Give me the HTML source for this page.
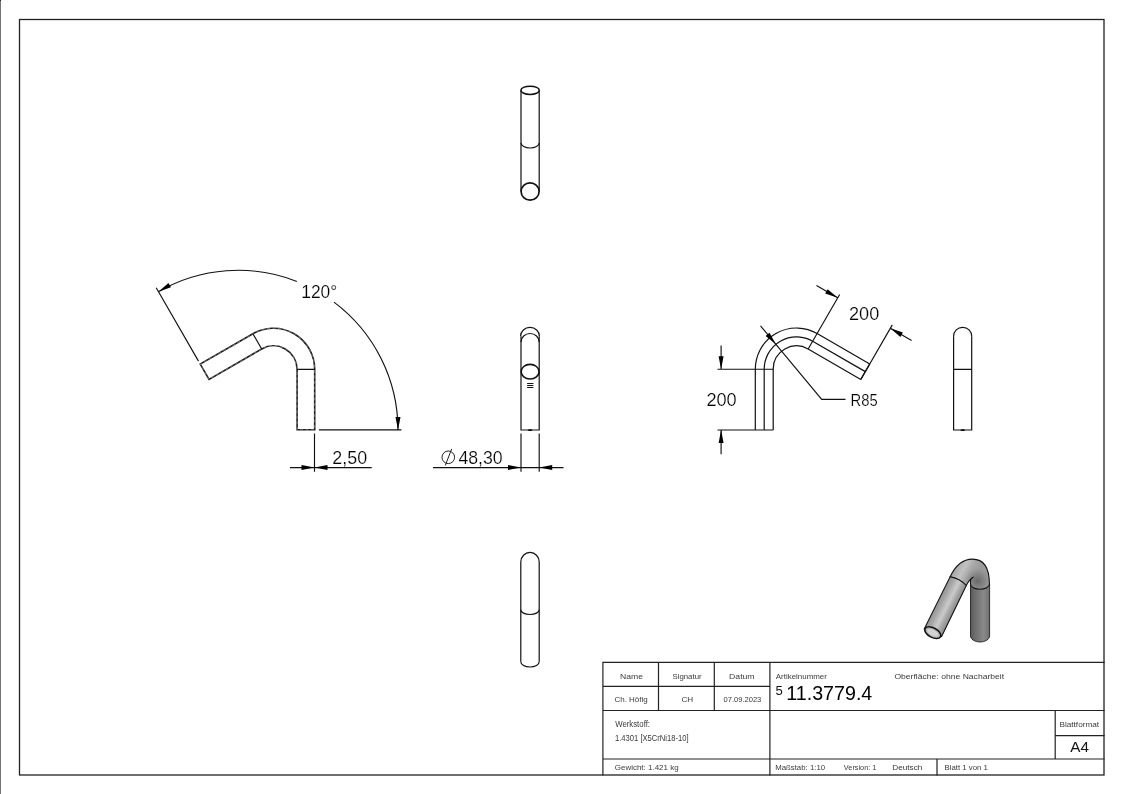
<!DOCTYPE html>
<html><head><meta charset="utf-8"><style>
html,body{margin:0;padding:0;background:#fff;}
svg{display:block;will-change:transform;}
text{font-family:"Liberation Sans",sans-serif;}
.dim{fill:#000;stroke:#fff;stroke-width:0.2px;}
.tb{fill:#3a3a3a;}
.big{fill:#000;}
.big5{fill:#111;}
.a4{fill:#111;}
</style></head><body>
<svg width="1123" height="794" viewBox="0 0 1123 794">
<rect x="0" y="0" width="1" height="794" fill="#737373"/><rect x="0" y="0" width="1" height="1" fill="#222"/>
<rect x="19.5" y="19.5" width="1084.5" height="755.5" fill="none" stroke="#222" stroke-width="1.3"/>
<path d="M297.10,429.80 V369.40 A23.6,23.6 0 0 0 261.70,348.96 L209.05,379.36 L200.25,364.12 L252.90,333.72 A41.2,41.2 0 0 1 314.70,369.40 V429.8 Z" stroke="#1a1a1a" stroke-width="1.6" fill="none"/>
<path d="M297.10,429.80 V369.40 A23.6,23.6 0 0 0 261.70,348.96 L209.05,379.36 L200.25,364.12 L252.90,333.72 A41.2,41.2 0 0 1 314.70,369.40 V429.8 Z" stroke="#fff" stroke-width="0.45" stroke-dasharray="3 2.5" fill="none" opacity="0.8"/>
<path d="M297.10,369.40 H314.70 M252.90,333.72 L261.70,348.96" stroke="#111" stroke-width="1.2" fill="none"/>
<path d="M198.50,361.09 L156.20,287.80 M318.9,429.8 H401.4" stroke="#111" stroke-width="1.15" fill="none"/>
<path d="M158.45,291.70 A159.7,159.7 0 0 1 296.83,281.41 M333.96,302.12 A159.7,159.7 0 0 1 398.00,430.00" stroke="#111" stroke-width="1.15" fill="none"/>
<path d="M158.45,291.70 L168.46,283.03 L170.96,287.36 Z" fill="#000"/>
<path d="M398.00,430.00 L395.50,417.00 L400.50,417.00 Z" fill="#000"/>
<path d="M314.5,433.5 V471.7 M290,467.6 H371.7" stroke="#111" stroke-width="1.15" fill="none"/>
<path d="M314.50,467.60 L301.50,470.10 L301.50,465.10 Z" fill="#000"/>
<path d="M314.50,467.60 L327.50,465.10 L327.50,470.10 Z" fill="#000"/>
<path d="M521,90.3 V191.2 M539.2,90.3 V191.2" stroke="#111" stroke-width="1.2" fill="none"/>
<ellipse cx="530.1" cy="90.3" rx="9.2" ry="4.1" stroke="#111" stroke-width="1.5" fill="none"/>
<path d="M521,143 A9.1,5 0 0 0 539.2,143" stroke="#111" stroke-width="1.2" fill="none"/>
<ellipse cx="530.1" cy="191.5" rx="9.0" ry="8.7" stroke="#111" stroke-width="1.7" fill="none"/>
<path d="M521,336.2 V430 H539.2 V336.2" stroke="#111" stroke-width="1.2" fill="none"/>
<path d="M520.6,336.2 A9.4,8.8 0 0 1 539.4,336.2" stroke="#111" stroke-width="1.2" fill="none"/>
<path d="M521,342 A9.1,8.5 0 0 1 539.2,342" stroke="#111" stroke-width="1.2" fill="none"/>
<ellipse cx="530.1" cy="371.7" rx="8.95" ry="7.35" stroke="#111" stroke-width="1.6" fill="none"/>
<path d="M527.1,383.5 H533.4 M527.1,385.5 H533.4 M527.1,387.5 H533.4" stroke="#111" stroke-width="1.0"/>
<path d="M521,433.5 V471.7 M539.2,433.5 V471.7 M433,467.6 H563.5" stroke="#111" stroke-width="1.15" fill="none"/>
<path d="M521.00,467.60 L508.00,470.10 L508.00,465.10 Z" fill="#000"/>
<path d="M539.20,467.60 L552.20,465.10 L552.20,470.10 Z" fill="#000"/>
<circle cx="448.3" cy="457.3" r="6.3" stroke="#222" stroke-width="1" fill="none"/>
<path d="M451.7,448.9 L445.3,465.4" stroke="#222" stroke-width="1"/>
<path d="M520.8,562 V661.8 M539.2,562 V661.8" stroke="#111" stroke-width="1.2" fill="none"/>
<path d="M520.8,562 A9.2,9.6 0 0 1 539.2,562" stroke="#111" stroke-width="1.2" fill="none"/>
<path d="M520.8,609.7 A9.2,4.8 0 0 0 539.2,609.7" stroke="#111" stroke-width="1.2" fill="none"/>
<path d="M520.8,661.8 A9.2,5.2 0 0 0 539.2,661.8" stroke="#111" stroke-width="1.2" fill="none"/>
<path d="M755.30,430 V369.2 A41.2,41.2 0 0 1 817.10,333.52 L869.75,363.92" stroke="#111" stroke-width="1.2" fill="none"/>
<path d="M764.20,430 V369.2 A32.3,32.3 0 0 1 812.65,341.23 L865.30,371.63" stroke="#111" stroke-width="1.2" fill="none"/>
<path d="M773.20,430 V369.2 A23.3,23.3 0 0 1 808.15,349.02 L860.80,379.42" stroke="#111" stroke-width="1.2" fill="none"/>
<path d="M755.30,430 H773.20 M869.75,363.92 L860.80,379.42" stroke="#111" stroke-width="1.2" fill="none"/>
<path d="M717.5,369.2 H773.20 M717.5,430 H755.30 M721.1,345.4 V369.2 M721.1,430 V454.3" stroke="#111" stroke-width="1.15" fill="none"/>
<path d="M721.10,369.20 L718.60,356.20 L723.60,356.20 Z" fill="#000"/>
<path d="M721.10,430.00 L723.60,443.00 L718.60,443.00 Z" fill="#000"/>
<path d="M808.15,349.02 L839.65,294.46 M860.80,379.42 L892.30,324.86" stroke="#111" stroke-width="1.15" fill="none"/>
<path d="M816.48,285.59 L837.70,297.84 M890.35,328.24 L911.57,340.49" stroke="#111" stroke-width="1.15" fill="none"/>
<path d="M837.70,297.84 L825.19,293.51 L827.69,289.18 Z" fill="#000"/>
<path d="M890.35,328.24 L902.86,332.58 L900.36,336.91 Z" fill="#000"/>
<path d="M760.52,325.91 L821.70,399.30 H845.5" stroke="#111" stroke-width="1.15" fill="none"/>
<path d="M775.86,344.36 L765.63,335.96 L769.47,332.76 Z" fill="#000"/>
<path d="M953.6,336.3 V430 H971.7 V336.3 M953.6,369.3 H971.7" stroke="#111" stroke-width="1.2" fill="none"/>
<path d="M953.6,336.3 A9.05,9 0 0 1 971.7,336.3" stroke="#111" stroke-width="1.2" fill="none"/>
<ellipse cx="962.7" cy="430.1" rx="2.3" ry="0.9" fill="#000"/>
<ellipse cx="530.1" cy="430.1" rx="2.3" ry="0.9" fill="#000"/>
<path d="M602.9,662.4 H1104 M602.9,662.4 V775 M602.9,686.4 H769.9 M602.9,710.5 H1104 M602.9,759 H1104 M658.5,662.4 V710.5 M714.3,662.4 V710.5 M769.9,662.4 V775 M1055.2,710.5 V759 M1055.2,735.6 H1104 M937,759 V775" stroke="#222" stroke-width="1.2" fill="none" stroke-linecap="square"/>
<text x="301.28" y="298.20" class="dim" font-size="18.76" textLength="35.97" lengthAdjust="spacingAndGlyphs">120°</text>
<text x="332.30" y="464.20" class="dim" font-size="18.22" textLength="34.80" lengthAdjust="spacingAndGlyphs">2,50</text>
<text x="458.39" y="463.90" class="dim" font-size="18.08" textLength="44.30" lengthAdjust="spacingAndGlyphs">48,30</text>
<text x="706.39" y="405.90" class="dim" font-size="18.22" textLength="30.32" lengthAdjust="spacingAndGlyphs">200</text>
<text x="848.99" y="319.80" class="dim" font-size="18.22" textLength="30.22" lengthAdjust="spacingAndGlyphs">200</text>
<text x="850.49" y="405.80" class="dim" font-size="16.76" textLength="27.13" lengthAdjust="spacingAndGlyphs">R85</text>
<text x="620.09" y="679.00" class="tb" font-size="7.12" textLength="22.99" lengthAdjust="spacingAndGlyphs">Name</text>
<text x="672.44" y="679.10" class="tb" font-size="8.00" textLength="29.19" lengthAdjust="spacingAndGlyphs">Signatur</text>
<text x="729.09" y="679.10" class="tb" font-size="7.12" textLength="25.48" lengthAdjust="spacingAndGlyphs">Datum</text>
<text x="614.50" y="701.90" class="tb" font-size="7.31" textLength="33.22" lengthAdjust="spacingAndGlyphs">Ch. Höfig</text>
<text x="681.49" y="702.30" class="tb" font-size="7.74" textLength="11.78" lengthAdjust="spacingAndGlyphs">CH</text>
<text x="723.50" y="702.30" class="tb" font-size="7.74" textLength="37.83" lengthAdjust="spacingAndGlyphs">07.09.2023</text>
<text x="775.78" y="678.90" class="tb" font-size="6.62" textLength="51.15" lengthAdjust="spacingAndGlyphs">Artikelnummer</text>
<text x="894.40" y="678.90" class="tb" font-size="7.72" textLength="109.76" lengthAdjust="spacingAndGlyphs">Oberfläche:  ohne Nacharbeit</text>
<text x="775.58" y="694.60" class="big5" font-size="13.32" textLength="7.27" lengthAdjust="spacingAndGlyphs">5</text>
<text x="786.33" y="699.90" class="big" font-size="19.63" textLength="85.94" lengthAdjust="spacingAndGlyphs">11.3779.4</text>
<text x="615.17" y="726.90" class="tb" font-size="8.14" textLength="34.84" lengthAdjust="spacingAndGlyphs">Werkstoff:</text>
<text x="615.02" y="741.00" class="tb" font-size="8.28" textLength="73.62" lengthAdjust="spacingAndGlyphs">1.4301 [X5CrNi18-10]</text>
<text x="614.80" y="769.90" class="tb" font-size="7.72" textLength="63.81" lengthAdjust="spacingAndGlyphs">Gewicht: 1.421 kg</text>
<text x="775.16" y="769.70" class="tb" font-size="6.76" textLength="49.95" lengthAdjust="spacingAndGlyphs">Maßstab: 1:10</text>
<text x="843.87" y="769.70" class="tb" font-size="7.03" textLength="32.48" lengthAdjust="spacingAndGlyphs">Version: 1</text>
<text x="892.22" y="769.80" class="tb" font-size="7.31" textLength="30.21" lengthAdjust="spacingAndGlyphs">Deutsch</text>
<text x="944.56" y="769.80" class="tb" font-size="7.31" textLength="43.32" lengthAdjust="spacingAndGlyphs">Blatt 1 von 1</text>
<text x="1059.43" y="726.60" class="tb" font-size="7.59" textLength="39.73" lengthAdjust="spacingAndGlyphs">Blattformat</text>
<text x="1070.37" y="751.90" class="a4" font-size="15.12" textLength="18.68" lengthAdjust="spacingAndGlyphs">A4</text>
<defs>
<linearGradient id="gR" x1="970.5" y1="0" x2="989.6" y2="0" gradientUnits="userSpaceOnUse">
<stop offset="0" stop-color="#5a5a5a"/><stop offset="0.3" stop-color="#727272"/><stop offset="0.7" stop-color="#8a8a8a"/><stop offset="1" stop-color="#6e6e6e"/>
</linearGradient>
<linearGradient id="gL" x1="926" y1="621" x2="944" y2="630" gradientUnits="userSpaceOnUse">
<stop offset="0" stop-color="#8a8a8a"/><stop offset="0.3" stop-color="#a6a6a6"/><stop offset="0.6" stop-color="#cbcbcb"/><stop offset="0.8" stop-color="#a8a8a8"/><stop offset="1" stop-color="#8e8e8e"/>
</linearGradient>
<linearGradient id="gB" x1="952" y1="566" x2="975" y2="578" gradientUnits="userSpaceOnUse">
<stop offset="0" stop-color="#9a9a9a"/><stop offset="0.45" stop-color="#c2c2c2"/><stop offset="0.7" stop-color="#a8a8a8"/><stop offset="1" stop-color="#9a9a9a"/>
</linearGradient>
<radialGradient id="gBd" cx="977.5" cy="581" r="13" gradientUnits="userSpaceOnUse">
<stop offset="0" stop-color="#666" stop-opacity="0.95"/><stop offset="0.55" stop-color="#777" stop-opacity="0.55"/><stop offset="1" stop-color="#888" stop-opacity="0"/>
</radialGradient>
</defs>
<path d="M970.5,584 V636 A9.55,6 0 0 0 989.6,636 V584 Z" fill="url(#gR)" stroke="#222" stroke-width="0.9"/>
<path id="bend" d="M950.1,576.8 C954.5,567.5 962,559.1 972.4,559.1 C984,559.1 989.4,568 989.4,584 A9.45,5.3 0 0 1 970.5,584 L970.6,580 C971,578.6 972,577.6 973.5,577 C970,579 968,582 966.3,585.5 C962,581 956,578 950.1,576.8 Z" fill="url(#gB)"/>
<path d="M950.1,576.8 C954.5,567.5 962,559.1 972.4,559.1 C984,559.1 989.4,568 989.4,584 A9.45,5.3 0 0 1 970.5,584 L970.6,580 C971,578.6 972,577.6 973.5,577 C970,579 968,582 966.3,585.5 C962,581 956,578 950.1,576.8 Z" fill="url(#gBd)" stroke="#111" stroke-width="1.05"/>
<path d="M950.1,576.8 C956,578 962,581 966.3,585.5 L941.6,636.5 L924.2,629 Z" fill="url(#gL)" stroke="#111" stroke-width="1.05"/>
<ellipse cx="932.8" cy="632.7" rx="8.7" ry="4.75" transform="rotate(28 932.8 632.7)" fill="#b8b8b8" stroke="#111" stroke-width="1.5"/>
<ellipse cx="932.8" cy="632.7" rx="6.9" ry="3.4" transform="rotate(28 932.8 632.7)" fill="#d2d2d2" stroke="#999" stroke-width="0.6"/>

</svg></body></html>
